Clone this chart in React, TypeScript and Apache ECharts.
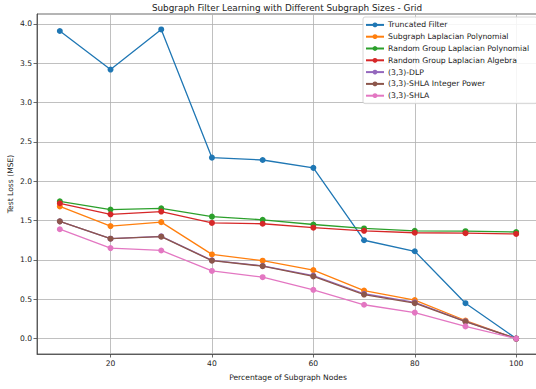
import React, { useEffect, useRef } from "react";
import * as echarts from "echarts";

const xValues = [10, 20, 30, 40, 50, 60, 70, 80, 90, 100];
const truncatedFilter = [3.91, 3.42, 3.93, 2.30, 2.27, 2.17, 1.25, 1.11, 0.45, 0.0];
const subgraphLaplacianPolynomial = [1.68, 1.43, 1.48, 1.07, 0.99, 0.87, 0.61, 0.49, 0.23, 0.0];
const randomGroupLaplacianPolynomial = [1.745, 1.64, 1.655, 1.55, 1.51, 1.45, 1.40, 1.37, 1.365, 1.355];
const randomGroupLaplacianAlgebra = [1.72, 1.58, 1.615, 1.47, 1.46, 1.41, 1.37, 1.345, 1.34, 1.33];
const dlp33 = [1.49, 1.27, 1.30, 0.995, 0.925, 0.80, 0.57, 0.46, 0.22, 0.0];
const shlaIntegerPower = [1.49, 1.27, 1.295, 0.99, 0.92, 0.79, 0.56, 0.45, 0.215, 0.0];
const shla33 = [1.39, 1.15, 1.12, 0.86, 0.78, 0.62, 0.43, 0.33, 0.155, 0.0];

const seriesNames = [
  "Truncated Filter",
  "Subgraph Laplacian Polynomial",
  "Random Group Laplacian Polynomial",
  "Random Group Laplacian Algebra",
  "(3,3)-DLP",
  "(3,3)-SHLA Integer Power",
  "(3,3)-SHLA",
];
const seriesData = [
  truncatedFilter,
  subgraphLaplacianPolynomial,
  randomGroupLaplacianPolynomial,
  randomGroupLaplacianAlgebra,
  dlp33,
  shlaIntegerPower,
  shla33,
];
const colors = ["#1f77b4", "#ff7f0e", "#2ca02c", "#d62728", "#9467bd", "#8c564b", "#e377c2"];
const xTicks = [20, 40, 60, 80, 100];
const yTicks = [0, 0.5, 1.0, 1.5, 2.0, 2.5, 3.0, 3.5, 4.0];

const FONT = "DejaVu Sans";

export default function App() {
  const ref = useRef<HTMLDivElement>(null);
  useEffect(() => {
    if (!ref.current) return;
    const chart = echarts.init(ref.current, null, { renderer: "svg" });
    chart.setOption({
      animation: false,
      backgroundColor: "#ffffff",
      title: {
        text: "Subgraph Filter Learning with Different Subgraph Sizes - Grid",
        left: 282,
        top: -2,
        textAlign: "center",
        textStyle: { fontFamily: FONT, fontSize: 8.85, fontWeight: "normal", color: "#222" },
      },
      legend: {
        orient: "vertical",
        left: 363,
        top: 17,
        padding: [3, 8, 3, 2],
        itemGap: 2,
        itemWidth: 18,
        itemHeight: 6,
        backgroundColor: "rgba(255,255,255,0.85)",
        borderColor: "#cccccc",
        borderWidth: 0.8,
        borderRadius: 2,
        textStyle: { fontFamily: FONT, fontSize: 7.7, color: "#222", lineHeight: 9.8, padding: [0, 0, 0, -1] },
        data: seriesNames,
      },
      grid: {
        left: 37,
        top: 14,
        right: -3,
        bottom: 35,
        show: true,
        borderColor: "#444",
        borderWidth: 0.8,
        containLabel: false,
        outerBoundsMode: "none",
      },
      xAxis: {
        type: "value",
        min: 5.5,
        max: 104.5,
        name: "Percentage of Subgraph Nodes",
        nameLocation: "middle",
        nameGap: 19,
        nameMoveOverlap: false,
        nameTextStyle: { fontFamily: FONT, fontSize: 7.6, color: "#222" },
        axisLine: { show: true, onZero: false, lineStyle: { color: "#444", width: 0.8 } },
        axisTick: { show: true, length: 3.5, customValues: xTicks, lineStyle: { color: "#444", width: 0.8 } },
        axisLabel: { customValues: xTicks, fontFamily: FONT, fontSize: 7.6, color: "#222", margin: 5 },
        splitLine: { show: true, lineStyle: { color: "#b0b0b0", width: 0.8 } },
      },
      yAxis: {
        type: "value",
        min: -0.196,
        max: 4.126,
        name: "Test Loss (MSE)",
        nameLocation: "middle",
        nameGap: 23,
        nameRotate: 90,
        nameMoveOverlap: false,
        nameTextStyle: { fontFamily: FONT, fontSize: 7.6, color: "#222" },
        axisLine: { show: true, onZero: false, lineStyle: { color: "#444", width: 0.8 } },
        axisTick: { show: true, length: 3.5, customValues: yTicks, lineStyle: { color: "#444", width: 0.8 } },
        axisLabel: {
          customValues: yTicks,
          fontFamily: FONT,
          fontSize: 7.6,
          color: "#222",
          margin: 5,
          formatter: (v: number) => v.toFixed(1),
        },
        splitLine: { show: true, lineStyle: { color: "#b0b0b0", width: 0.8 } },
      },
      series: seriesNames.map((name, i) => ({
        name,
        type: "line",
        data: xValues.map((x, j) => [x, seriesData[i][j]]),
        color: colors[i],
        symbol: "circle",
        symbolSize: 6,
        lineStyle: { width: 1.3, color: colors[i] },
        itemStyle: { color: colors[i] },
        z: 2 + i,
      })),
    });
    return () => chart.dispose();
  }, []);
  return (
    <div
      ref={ref}
      style={{ position: "fixed", left: 0, top: 0, width: 536, height: 389 }}
    />
  );
}
